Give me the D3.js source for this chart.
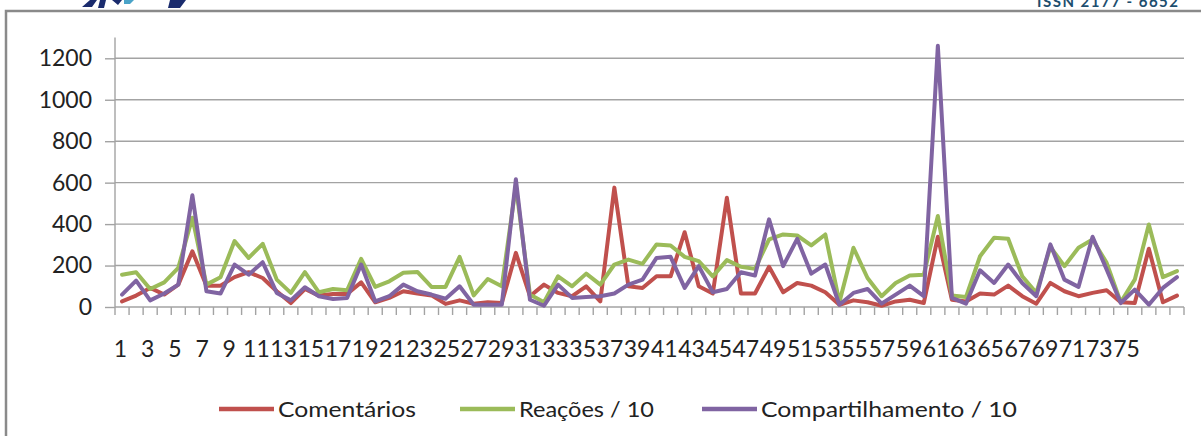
<!DOCTYPE html>
<html>
<head>
<meta charset="utf-8">
<script src="https://cdn.jsdelivr.net/npm/d3@7"></script>
<style>
  body { margin: 0; background: #fff; }
  svg { display: block; }
</style>
</head>
<body>
<div id="chart"></div>
<script>
// categories (posts 1..76)
const categories = [1,2,3,4,5,6,7,8,9,10,11,12,13,14,15,16,17,18,19,20,21,22,23,24,25,26,27,28,29,30,
  31,32,33,34,35,36,37,38,39,40,41,42,43,44,45,46,47,48,49,50,51,52,53,54,55,56,57,58,59,60,
  61,62,63,64,65,66,67,68,69,70,71,72,73,74,75,76];

const comentarios = [27,55,92,60,108,269,103,103,144,168,140,76,19,87,55,63,63,119,23,44,
  76,65,56,15,32,16,23,19,261,52,108,68,52,100,27,576,100,92,148,148,
  361,100,65,527,65,65,194,71,116,103,71,11,32,23,6,27,35,19,339,35,
  27,65,60,103,52,16,116,76,52,68,81,23,19,281,23,55];

const reacoes = [156,168,87,119,189,431,108,144,318,237,305,132,68,168,71,87,81,232,97,124,
  165,169,97,97,242,56,135,100,585,60,23,148,100,161,108,205,229,208,302,297,
  242,221,148,226,194,184,326,350,345,297,350,23,286,140,52,116,152,156,439,55,
  48,245,334,329,148,68,290,197,286,326,213,23,132,398,144,173];

const compartilhamento = [60,127,32,65,108,539,76,65,205,156,216,68,32,95,52,39,44,205,27,52,
  108,76,60,40,100,11,11,11,616,35,6,108,44,48,52,65,108,132,237,242,
  92,197,71,87,168,152,423,197,329,161,205,11,68,87,16,60,103,52,1260,44,
  16,177,116,205,116,52,302,132,97,339,181,19,84,11,92,144];

const yTicks = [0,200,400,600,800,1000,1200];
const xTickLabels = [1,3,5,7,9,11,13,15,17,19,21,23,25,27,29,31,33,35,37,39,
  41,43,45,47,49,51,53,55,57,59,61,63,65,67,69,71,73,75];

const seriesNames = ["Comentários", "Reações / 10", "Compartilhamento / 10"];
const seriesColors = ["#c0504d", "#9bbb59", "#8064a2"];
const seriesValues = [comentarios, reacoes, compartilhamento];

const width = 1201, height = 436;
const plotLeft = 115, plotRight = 1184, plotBottom = 307;
const fontFam = "Lato, 'Open Sans', sans-serif";
const gridColor = "#a3a3a3";

const svg = d3.select("#chart").append("svg")
  .attr("width", width)
  .attr("height", height)
  .attr("xmlns", "http://www.w3.org/2000/svg");

svg.append("rect")
  .attr("width", width).attr("height", height)
  .attr("fill", "#fff");

// bits of the page header that are cut off at the top
svg.append("text")
  .attr("x", 1037).attr("y", 7)
  .attr("font-family", fontFam)
  .attr("font-weight", "bold")
  .attr("font-size", "15px")
  .attr("fill", "#1d4e6e")
  .attr("textLength", 141)
  .text("ISSN 2177 - 6652");
svg.append("path")
  .attr("d", "M82,7 L90,0 L97,0 L92,7 Z M100,0 L106,0 L104,8 L98,8 Z M112,0 L122,0 L118,5 Z M170,0 L186,0 L180,8 L168,8 Z")
  .attr("fill", "#1a2b6d");
svg.append("path")
  .attr("d", "M124,0 L134,0 L130,4 L124,4 Z")
  .attr("fill", "#4aa3c8");

// outer chart frame
svg.append("rect")
  .attr("x", 6).attr("y", 11)
  .attr("width", 1220).attr("height", 450)
  .attr("fill", "none")
  .attr("stroke", "#8a8a8a")
  .attr("stroke-width", 2.5);

const x = d3.scaleBand()
  .domain(categories)
  .range([plotLeft, plotRight])
  .padding(0);

const y = d3.scaleLinear()
  .domain([0, 1200])
  .range([plotBottom, 58.3]);

// horizontal gridlines
svg.append("g")
  .selectAll("line")
  .data(yTicks)
  .join("line")
    .attr("x1", plotLeft)
    .attr("x2", plotRight)
    .attr("y1", d => y(d))
    .attr("y2", d => y(d))
    .attr("stroke", gridColor)
    .attr("stroke-width", 1.4);

// y axis
const yAxis = svg.append("g")
  .attr("transform", `translate(${plotLeft},0)`)
  .call(d3.axisLeft(y).tickValues(yTicks).tickFormat(d3.format("d")).tickSize(10).tickPadding(13));
yAxis.select(".domain").remove();
yAxis.selectAll(".tick line").attr("stroke", gridColor).attr("stroke-width", 1.4);
yAxis.selectAll("text")
  .attr("font-family", fontFam)
  .attr("font-size", "23px")
  .attr("fill", "#222");
svg.append("line")
  .attr("x1", plotLeft).attr("x2", plotLeft)
  .attr("y1", y(0)).attr("y2", y(1300))
  .attr("stroke", gridColor)
  .attr("stroke-width", 1.4);

// x axis tick marks between categories
const boundaries = categories.map(c => x(c)).concat([plotRight]);
svg.append("g")
  .selectAll("line")
  .data(boundaries)
  .join("line")
    .attr("x1", d => d).attr("x2", d => d)
    .attr("y1", plotBottom).attr("y2", plotBottom + 8)
    .attr("stroke", gridColor)
    .attr("stroke-width", 1.4);

// x tick labels (every other category, packed tight like the source)
const xLab = d3.scalePoint()
  .domain(xTickLabels)
  .range([120, 1126]);
const xAxis = svg.append("g")
  .attr("transform", "translate(0,341)")
  .call(d3.axisBottom(xLab).tickSize(0).tickPadding(0));
xAxis.select(".domain").remove();
xAxis.selectAll("text")
  .attr("font-family", fontFam)
  .attr("font-size", "23px")
  .attr("fill", "#222");

// series lines
const line = d3.line()
  .x((d, i) => x(categories[i]) + x.bandwidth() / 2)
  .y(d => y(d));

svg.append("g")
  .selectAll("path")
  .data(seriesValues)
  .join("path")
    .attr("d", d => line(d))
    .attr("fill", "none")
    .attr("stroke", (d, i) => seriesColors[i])
    .attr("stroke-width", 4)
    .attr("stroke-linejoin", "round")
    .attr("stroke-linecap", "round");

// legend
const legendX = [219, 460, 702];
const legendTextW = [138, 135, 256];
const legend = svg.append("g")
  .selectAll("g")
  .data(seriesNames)
  .join("g")
    .attr("transform", (d, i) => `translate(${legendX[i]},409)`);
legend.append("line")
  .attr("x1", 0).attr("x2", 55)
  .attr("stroke", (d, i) => seriesColors[i])
  .attr("stroke-width", 4.5);
legend.append("text")
  .attr("x", 59)
  .attr("dy", "0.36em")
  .attr("font-family", fontFam)
  .attr("font-size", "21px")
  .attr("fill", "#222")
  .attr("textLength", (d, i) => legendTextW[i])
  .attr("lengthAdjust", "spacingAndGlyphs")
  .text(d => d);
</script>
</body>
</html>
